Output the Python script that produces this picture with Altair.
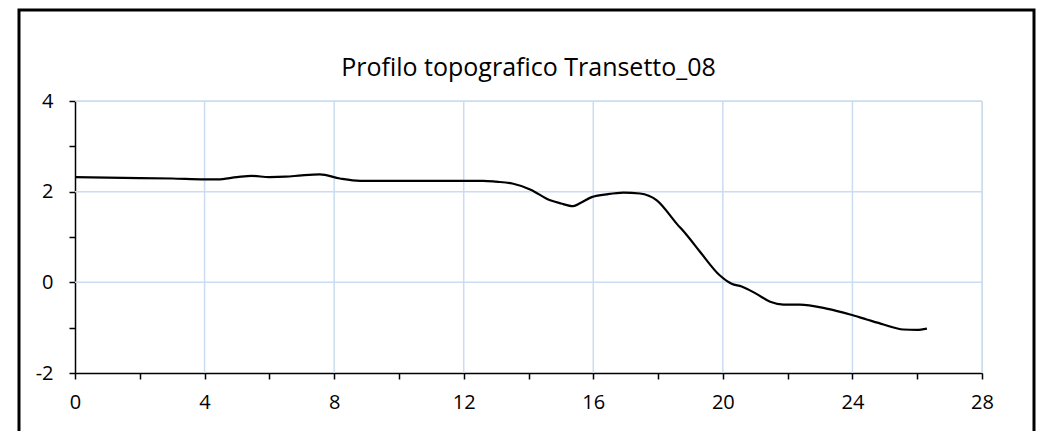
import altair as alt
import pandas as pd

title_text = "Profilo topografico Transetto_08"

dist = [0, 1, 2, 3, 4, 4.4, 5.0, 5.45, 6.0, 6.5, 7.0, 7.56, 8.18, 8.8, 9.5, 10.5,
        11.5, 12.6, 13.0, 13.5, 14.05, 14.67, 15.0, 15.38, 15.6, 15.95, 16.4, 16.93,
        17.44, 17.96, 18.58, 18.89, 19.3, 19.91, 20.27, 20.58, 21.05, 21.46, 21.87,
        22.38, 23.2, 23.93, 24.44, 24.96, 25.57, 25.99, 26.3]
quota = [2.32, 2.31, 2.30, 2.29, 2.27, 2.27, 2.32, 2.35, 2.32, 2.33, 2.36, 2.38, 2.29,
         2.24, 2.24, 2.24, 2.24, 2.24, 2.22, 2.18, 2.05, 1.81, 1.74, 1.68, 1.75, 1.88,
         1.94, 1.98, 1.96, 1.81, 1.29, 1.04, 0.67, 0.15, -0.03, -0.09, -0.26, -0.43,
         -0.49, -0.49, -0.58, -0.71, -0.82, -0.93, -1.04, -1.05, -1.02]

x_ticks = [0, 2, 4, 6, 8, 10, 12, 14, 16, 18, 20, 22, 24, 26, 28]
y_ticks = [-2, -1, 0, 1, 2, 3, 4]
x_grid = [4, 8, 12, 16, 20, 24, 28]
y_grid = [0, 2, 4]

W, H = 907, 272
FONT = "Open Sans"
GRID = "#c9dcf1"

df = pd.DataFrame({"x": dist, "y": quota})
xs = alt.Scale(domain=[0, 28], nice=False, zero=False)
ys = alt.Scale(domain=[-2, 4], nice=False, zero=False)

xgrid = alt.Chart(pd.DataFrame({"g": x_grid})).mark_rule(
    color=GRID, strokeWidth=1.5).encode(x=alt.X("g:Q", scale=xs))
ygrid = alt.Chart(pd.DataFrame({"g": y_grid})).mark_rule(
    color=GRID, strokeWidth=1.5).encode(y=alt.Y("g:Q", scale=ys))

line = alt.Chart(df).mark_line(color="black", strokeWidth=2.2, interpolate="monotone").encode(
    x=alt.X("x:Q", scale=xs, title=None,
            axis=alt.Axis(values=x_ticks, grid=False, domainColor="black", domainWidth=1.5,
                          tickColor="black", tickWidth=1.5, tickSize=6, labelPadding=13,
                          labelFlush=False, labelOverlap=False,
                          labelFont=FONT, labelFontSize=20, labelColor="black",
                          labelExpr="datum.value % 4 == 0 ? '' + datum.value : ''")),
    y=alt.Y("y:Q", scale=ys, title=None,
            axis=alt.Axis(values=y_ticks, grid=False, domainColor="black", domainWidth=1.5,
                          tickColor="black", tickWidth=1.5, tickSize=6, labelPadding=16,
                          labelFlush=False, labelOverlap=False,
                          labelFont=FONT, labelFontSize=20, labelColor="black",
                          labelExpr="datum.value % 2 == 0 ? '' + datum.value : ''")),
)

title = alt.Chart(pd.DataFrame({"t": [title_text]})).mark_text(
    font=FONT, fontSize=25, color="black", align="center", baseline="alphabetic"
).encode(text="t:N", x=alt.value(W / 2), y=alt.value(-25))

frame = alt.Chart(pd.DataFrame({"t": [title_text]})).mark_rect(
    fill=None, fillOpacity=0, stroke="black", strokeWidth=3
).encode(x=alt.value(-56), x2=alt.value(959), y=alt.value(-91), y2=alt.value(420))

chart = alt.layer(xgrid, ygrid, line, title, frame).properties(
    width=W, height=H,
    autosize=alt.AutoSizeParams(type="none"),
    padding={"left": 67, "top": 93, "right": 59, "bottom": 58},
).configure_view(stroke=None).configure(background="white")

chart.save("out.html", embed_options={"renderer": "svg", "actions": False})
